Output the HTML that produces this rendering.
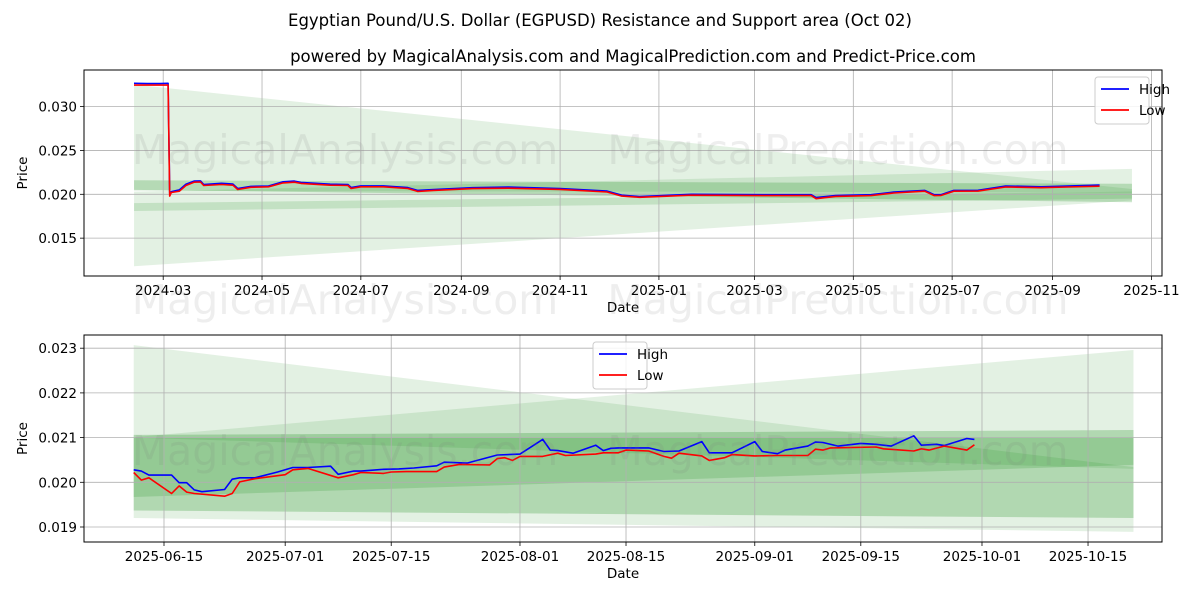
<!DOCTYPE html>
<html><head><meta charset="utf-8">
<style>
html,body{margin:0;padding:0;background:#fff;}
svg{display:block;font-family:"DejaVu Sans","Liberation Sans",sans-serif;}
</style></head>
<body>
<svg id="chart" width="1200" height="600" viewBox="0 0 1200 600" xmlns="http://www.w3.org/2000/svg">
<rect width="1200" height="600" fill="#fff"/>
<text x="600" y="26" text-anchor="middle" font-size="16.5" fill="#000">Egyptian Pound/U.S. Dollar (EGPUSD) Resistance and Support area (Oct 02)</text>
<text x="633" y="62" text-anchor="middle" font-size="16.5" fill="#000">powered by MagicalAnalysis.com and MagicalPrediction.com and Predict-Price.com</text>
<g id="top"></g>
<g id="bot"></g>
<g font-size="41" fill="rgba(120,120,120,0.13)" text-anchor="middle">
<text x="345" y="164">MagicalAnalysis.com</text>
<text x="838" y="164">MagicalPrediction.com</text>
<text x="345" y="314">MagicalAnalysis.com</text>
<text x="838" y="314">MagicalPrediction.com</text>
<text x="345" y="465">MagicalAnalysis.com</text>
<text x="838" y="465">MagicalPrediction.com</text>
</g>
</svg>
<script>
// ---------- TOP CHART DATA ----------
const topDates = ["2024-02-12","2024-02-20","2024-02-28","2024-03-04","2024-03-05","2024-03-06","2024-03-11","2024-03-15","2024-03-20","2024-03-24","2024-03-26","2024-04-06","2024-04-13","2024-04-16","2024-04-24","2024-05-05","2024-05-14","2024-05-21","2024-05-25","2024-06-12","2024-06-23","2024-06-25","2024-07-01","2024-07-15","2024-07-30","2024-08-05","2024-08-15","2024-09-08","2024-09-30","2024-11-01","2024-11-30","2024-12-09","2024-12-20","2025-01-21","2025-03-07","2025-04-05","2025-04-08","2025-04-20","2025-05-12","2025-05-26","2025-06-14","2025-06-20","2025-06-24","2025-07-02","2025-07-17","2025-08-03","2025-08-25","2025-09-10","2025-09-30"];
const topHigh = [0.03266,0.03262,0.03262,0.03266,0.02010,0.02030,0.02050,0.02115,0.02150,0.02153,0.02112,0.02125,0.02116,0.02066,0.02090,0.02095,0.02142,0.02150,0.02136,0.02115,0.02112,0.02078,0.02096,0.02096,0.02076,0.02045,0.02055,0.02075,0.02082,0.02066,0.02036,0.01990,0.01975,0.02000,0.01995,0.01995,0.01962,0.01986,0.01995,0.02025,0.02045,0.01996,0.01996,0.02045,0.02046,0.02095,0.02085,0.02095,0.02105];
const topLow = [0.03245,0.03245,0.03245,0.03245,0.01980,0.02020,0.02035,0.02100,0.02138,0.02140,0.02100,0.02112,0.02104,0.02055,0.02080,0.02085,0.02130,0.02138,0.02124,0.02104,0.02100,0.02066,0.02086,0.02086,0.02066,0.02033,0.02045,0.02065,0.02070,0.02056,0.02026,0.01980,0.01966,0.01990,0.01985,0.01985,0.01950,0.01976,0.01985,0.02015,0.02035,0.01985,0.01986,0.02035,0.02036,0.02083,0.02075,0.02083,0.02092];
const topBandDates = ["2024-02-12","2025-10-20"];
const topBandUpper = [[0.03250,0.02060],[0.02030,0.02290],[0.02160,0.02120],[0.01900,0.02030]];
const topBandLower = [[0.02040,0.02020],[0.01180,0.01930],[0.02050,0.01910],[0.01810,0.01950]];
const topBandAlpha = [0.11,0.11,0.2,0.14];
const topYTicks = [0.015,0.020,0.025,0.030];
const topXTicks = ["2024-03-01","2024-05-01","2024-07-01","2024-09-01","2024-11-01","2025-01-01","2025-03-01","2025-05-01","2025-07-01","2025-09-01","2025-11-01"];
const topXLabels = ["2024-03","2024-05","2024-07","2024-09","2024-11","2025-01","2025-03","2025-05","2025-07","2025-09","2025-11"];

// ---------- BOTTOM CHART DATA ----------
const botHighDates = ["2025-06-11","2025-06-12","2025-06-13","2025-06-16","2025-06-17","2025-06-18","2025-06-19","2025-06-20","2025-06-23","2025-06-24","2025-06-25","2025-06-27","2025-06-30","2025-07-02","2025-07-04","2025-07-07","2025-07-08","2025-07-10","2025-07-11","2025-07-14","2025-07-16","2025-07-18","2025-07-21","2025-07-22","2025-07-25","2025-07-29","2025-08-01","2025-08-04","2025-08-05","2025-08-06","2025-08-08","2025-08-11","2025-08-12","2025-08-13","2025-08-14","2025-08-18","2025-08-20","2025-08-22","2025-08-25","2025-08-26","2025-08-29","2025-09-01","2025-09-02","2025-09-04","2025-09-05","2025-09-08","2025-09-09","2025-09-10","2025-09-12","2025-09-15","2025-09-17","2025-09-19","2025-09-22","2025-09-23","2025-09-25","2025-09-26","2025-09-29","2025-09-30"];
const botHigh = [0.02028,0.02025,0.02016,0.02016,0.01999,0.01999,0.01983,0.01979,0.01984,0.02007,0.02010,0.02010,0.02023,0.02033,0.02033,0.02036,0.02018,0.02025,0.02025,0.02029,0.02030,0.02032,0.02037,0.02045,0.02043,0.02061,0.02063,0.02096,0.02072,0.02071,0.02065,0.02083,0.02071,0.02076,0.02077,0.02077,0.02069,0.02070,0.02091,0.02066,0.02066,0.02091,0.02069,0.02064,0.02072,0.02081,0.02090,0.02089,0.02081,0.02087,0.02085,0.02081,0.02104,0.02083,0.02085,0.02082,0.02098,0.02096];
const botLowDates = ["2025-06-11","2025-06-12","2025-06-13","2025-06-16","2025-06-17","2025-06-18","2025-06-19","2025-06-23","2025-06-24","2025-06-25","2025-06-27","2025-07-01","2025-07-02","2025-07-04","2025-07-08","2025-07-10","2025-07-11","2025-07-14","2025-07-15","2025-07-17","2025-07-21","2025-07-22","2025-07-24","2025-07-28","2025-07-29","2025-07-30","2025-07-31","2025-08-01","2025-08-04","2025-08-06","2025-08-07","2025-08-11","2025-08-12","2025-08-14","2025-08-15","2025-08-18","2025-08-20","2025-08-21","2025-08-22","2025-08-25","2025-08-26","2025-08-28","2025-08-29","2025-09-01","2025-09-04","2025-09-08","2025-09-09","2025-09-10","2025-09-11","2025-09-17","2025-09-18","2025-09-22","2025-09-23","2025-09-24","2025-09-26","2025-09-29","2025-09-30"];
const botLow = [0.02022,0.02005,0.02010,0.01975,0.01992,0.01978,0.01975,0.01969,0.01975,0.02001,0.02008,0.02017,0.02028,0.02031,0.02010,0.02017,0.02022,0.02020,0.02023,0.02024,0.02024,0.02034,0.02040,0.02039,0.02053,0.02055,0.02049,0.02058,0.02058,0.02065,0.02060,0.02063,0.02066,0.02066,0.02072,0.02070,0.02058,0.02054,0.02065,0.02059,0.02049,0.02055,0.02062,0.02059,0.02060,0.02060,0.02074,0.02072,0.02077,0.02079,0.02075,0.02070,0.02075,0.02072,0.02081,0.02072,0.02084];
const botBandDates = ["2025-06-11","2025-10-21"];
const botBandUpper = [[0.02307,0.02034],[0.02101,0.02296],[0.02106,0.02117],[0.02100,0.02099]];
const botBandLower = [[0.02100,0.02030],[0.01920,0.01889],[0.01937,0.01920],[0.01967,0.02039]];
const botBandAlpha = [0.11,0.11,0.22,0.16];
const botYTicks = [0.019,0.020,0.021,0.022,0.023];
const botXTicks = ["2025-06-15","2025-07-01","2025-07-15","2025-08-01","2025-08-15","2025-09-01","2025-09-15","2025-10-01","2025-10-15"];

const NS = "http://www.w3.org/2000/svg";
function mk(parent, tag, attrs){const e=document.createElementNS(NS,tag);for(const k in attrs)e.setAttribute(k,attrs[k]);parent.appendChild(e);return e;}
const DAY=86400000;
function t(s){const p=s.split("-");return Date.UTC(+p[0],+p[1]-1,+p[2]);}

function drawPanel(g, cfg){
  const {L,R,T,B,x,y} = cfg;
  cfg.bandUpper.forEach((u,i)=>{
    const lo=cfg.bandLower[i];
    const x0=x(cfg.bandDates[0]), x1=x(cfg.bandDates[1]);
    const p=mk(g,"polygon",{points:`${x0},${y(u[0])} ${x1},${y(u[1])} ${x1},${y(lo[1])} ${x0},${y(lo[0])}`,fill:`rgba(0,128,0,${cfg.bandAlpha[i]})`});
    
    
  });
  cfg.yTicks.forEach(v=>{
    const yy=y(v);
    const l=mk(g,"line",{x1:L,x2:R,y1:yy,y2:yy,stroke:"#b0b0b0","stroke-width":0.8});
    
    
    mk(g,"line",{x1:L-4,x2:L,y1:yy,y2:yy,stroke:"#000","stroke-width":0.8});
    const tx=mk(g,"text",{x:L-7,y:yy+5,"text-anchor":"end","font-size":"13.5",fill:"#000"});
    tx.textContent=v.toFixed(3);
    
    
  });
  cfg.xTicks.forEach((d,i)=>{
    const xx=x(d);
    const l=mk(g,"line",{x1:xx,x2:xx,y1:T,y2:B,stroke:"#b0b0b0","stroke-width":0.8});
    
    
    mk(g,"line",{x1:xx,x2:xx,y1:B,y2:B+4,stroke:"#000","stroke-width":0.8});
    const tx=mk(g,"text",{x:xx,y:B+19,"text-anchor":"middle","font-size":"13.5",fill:"#000"});
    tx.textContent=cfg.xLabels[i];
    
    
  });
  function line(dates, vals, color, name){
    const pts=dates.map((d,i)=>x(d).toFixed(1)+","+y(vals[i]).toFixed(1)).join(" ");
    const pl=mk(g,"polyline",{points:pts,fill:"none",stroke:color,"stroke-width":1.6,"stroke-linejoin":"round"});
    
    
  }
  line(cfg.hDates,cfg.high,"#0000ff","high-line");
  line(cfg.lDates,cfg.low,"#ff0000","low-line");
  const fr=mk(g,"rect",{x:L,y:T,width:R-L,height:B-T,fill:"none",stroke:"#000","stroke-width":1});
  
  
  const xt=mk(g,"text",{x:(L+R)/2,y:B+36,"text-anchor":"middle","font-size":"13.5",fill:"#000"});
  xt.textContent="Date";
  
  
  const yt=mk(g,"text",{x:0,y:0,"text-anchor":"middle","font-size":"13.5",fill:"#000",transform:`translate(27,${(T+B)/2}) rotate(-90)`});
  yt.textContent="Price";
  
  
  const lg=mk(g,"g",{});
  
  
  const lx=cfg.legX, ly=cfg.legY;
  mk(lg,"rect",{x:lx,y:ly,width:54,height:47,rx:3,fill:"rgba(255,255,255,0.85)",stroke:"#ccc","stroke-width":1});
  mk(lg,"line",{x1:lx+6,x2:lx+34,y1:ly+12,y2:ly+12,stroke:"#0000ff","stroke-width":1.8});
  mk(lg,"line",{x1:lx+6,x2:lx+34,y1:ly+33,y2:ly+33,stroke:"#ff0000","stroke-width":1.8});
  const t1=mk(lg,"text",{x:lx+44,y:ly+17,"font-size":"13.5",fill:"#000"});t1.textContent="High";
  
  
  const t2=mk(lg,"text",{x:lx+44,y:ly+38,"font-size":"13.5",fill:"#000"});t2.textContent="Low";
  
  
}

const t0Top=t("2024-03-01"), t0Bot=t("2025-06-15");
drawPanel(document.getElementById("top"),{
  L:84,R:1162,T:70,B:276,
  x:d=>163.2+(t(d)-t0Top)/DAY*1.62,
  y:v=>194.3-(v-0.020)*8770,
  bandDates:topBandDates,bandUpper:topBandUpper,bandLower:topBandLower,bandAlpha:topBandAlpha,
  yTicks:topYTicks,xTicks:topXTicks,xLabels:topXLabels,
  hDates:topDates,high:topHigh,lDates:topDates,low:topLow,
  legX:1095,legY:77
});
drawPanel(document.getElementById("bot"),{
  L:84,R:1162,T:335,B:542,
  x:d=>164+(t(d)-t0Bot)/DAY*7.574,
  y:v=>482.3-(v-0.020)*44700,
  bandDates:botBandDates,bandUpper:botBandUpper,bandLower:botBandLower,bandAlpha:botBandAlpha,
  yTicks:botYTicks,xTicks:botXTicks,xLabels:botXTicks,
  hDates:botHighDates,high:botHigh,lDates:botLowDates,low:botLow,
  legX:593,legY:342
});
</script>
</body></html>
